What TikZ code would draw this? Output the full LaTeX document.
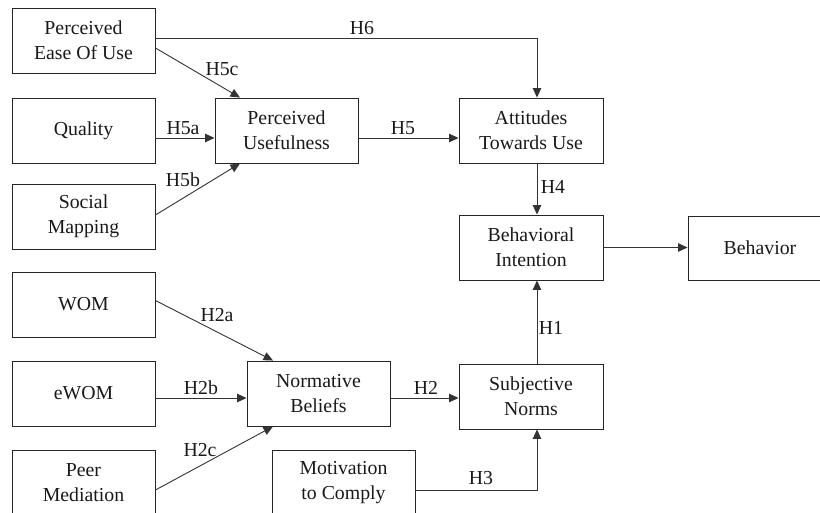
\documentclass[tikz,border=0pt]{standalone}
\usepackage{fontspec}
\setmainfont{Liberation Serif}
\usetikzlibrary{arrows.meta}
\begin{document}
\begin{tikzpicture}[x=1pt,y=-1pt,
  box/.style={draw=black!85,line width=0.9pt,minimum width=143pt,minimum height=65pt,
    inner sep=0pt,align=center,font=\fontsize{19.8}{25}\selectfont,text=black!90},
  arr/.style={draw=black!80,line width=0.9pt,-{Triangle[length=9.5pt,width=8.5pt]}},
  lab/.style={inner sep=0pt,font=\fontsize{19.8}{25}\selectfont,text=black!90}]
\useasboundingbox (0,0) rectangle (820,512);
\clip (0,0) rectangle (820,512);
% nodes
\node[box] (peou) at (83.5,40.5) {Perceived\\Ease Of Use};
\node[box] (qual) at (83.5,130.5) {Quality};
\node[box] (soc) at (83.5,216.5) {Social\\Mapping};
\node[box] (pu) at (286.5,130.5) {Perceived\\Usefulness};
\node[box,minimum width=144pt] (atu) at (531,130.5) {Attitudes\\Towards Use};
\node[box,minimum width=144pt] (bi) at (531,247.5) {Behavioral\\Intention};
\node[box,minimum width=144pt,minimum height=64pt] (beh) at (760,248) {Behavior};
\node[box] (wom) at (83.5,304.5) {WOM};
\node[box] (ewom) at (83.5,393.5) {eWOM};
\node[box] (peer) at (83.5,482.5) {Peer\\Mediation};
\node[box] (nb) at (318.5,393.5) {Normative\\Beliefs};
\node[box,minimum width=144pt] (sn) at (531,396.5) {Subjective\\Norms};
\node[box] (mc) at (343.5,482.5) {Motivation\\to Comply};
% connectors
\draw[arr] ([yshift=2.5pt]peou.east) -| ([xshift=6pt]atu.north);
\draw[arr] ([yshift=-7.5pt]peou.east) -- ([xshift=-46.5pt]pu.north);
\draw[arr] ([yshift=-7.5pt]qual.east) -- ([yshift=-7.5pt]pu.west);
\draw[arr] ([yshift=1.5pt]soc.east) -- ([xshift=-46.5pt]pu.south);
\draw[arr] ([yshift=-7.5pt]pu.east) -- ([yshift=-7.5pt]atu.west);
\draw[arr] ([xshift=6pt]atu.south) -- ([xshift=6pt]bi.north);
\draw[arr] (bi.east) -- (bi.east -| beh.west);
\draw[arr] ([yshift=4pt]wom.east) -- ([xshift=-45.5pt]nb.north);
\draw[arr] ([yshift=-4.5pt]ewom.east) -- ([yshift=-4.5pt]nb.west);
\draw[arr] ([yshift=-7.5pt]peer.east) -- ([xshift=-45.5pt]nb.south);
\draw[arr] ([yshift=-4.5pt]nb.east) -- ([yshift=-4.5pt]nb.east -| sn.west);
\draw[arr] ([xshift=6pt]sn.north) -- ([xshift=6pt]bi.south);
\draw[arr] ([yshift=-7.5pt]mc.east) -| ([xshift=6pt]sn.south);
% labels
\node[lab] (l6) at (362,28) {H6};
\node[lab] (l5c) at (222,69) {H5c};
\node[lab] (l5a) at (183,128) {H5a};
\node[lab] (l5b) at (183,180) {H5b};
\node[lab] (l5) at (403,128) {H5};
\node[lab] (l4) at (553,187) {H4};
\node[lab] (l1) at (551,328) {H1};
\node[lab] (l2) at (426,388) {H2};
\node[lab] (l3) at (481,478) {H3};
\node[lab] (l2a) at (217,315) {H2a};
\node[lab] (l2b) at (201,388) {H2b};
\node[lab] (l2c) at (200,450) {H2c};
\end{tikzpicture}
\end{document}
